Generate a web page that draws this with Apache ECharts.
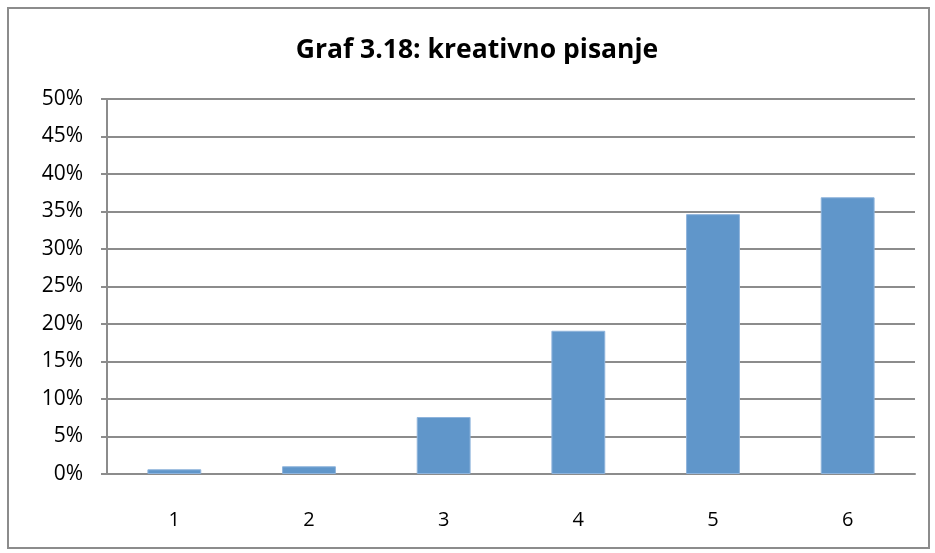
<!DOCTYPE html>
<html>
<head>
<meta charset="utf-8">
<script src="https://cdn.jsdelivr.net/npm/echarts@6/dist/echarts.min.js"></script>
<style>
  html, body { margin: 0; padding: 0; background: #fff; }
  #frame { position: absolute; left: 7px; top: 7px; width: 919px; height: 538px; border: 2px solid #8c8c8c; }
  #chart { position: absolute; left: 0; top: 0; width: 935px; height: 553px; }
</style>
</head>
<body>
<div id="frame"></div>
<div id="chart"></div>
<script>
const categories = ['1', '2', '3', '4', '5', '6'];
const values = [0.63, 1.03, 7.6, 19.1, 34.65, 36.9];
const titleText = 'Graf 3.18: kreativno pisanje';

const chart = echarts.init(document.getElementById('chart'), null, { renderer: 'canvas' });
chart.setOption({
  animation: false,
  title: {
    text: titleText,
    left: 472,
    top: 32,
    textAlign: 'center',
    textStyle: { fontFamily: 'Open Sans', fontSize: 26.5, fontWeight: 'bold', color: '#000' }
  },
  grid: { left: 107, right: 20, top: 99, bottom: 79 },
  xAxis: {
    type: 'category',
    data: categories,
    axisLine: { lineStyle: { color: '#8c8c8c', width: 2 } },
    axisTick: { show: false },
    axisLabel: { fontFamily: 'Open Sans', fontSize: 20, color: '#000', margin: 36 }
  },
  yAxis: {
    type: 'value',
    min: 0,
    max: 50,
    interval: 5,
    axisLine: { show: true, lineStyle: { color: '#8c8c8c', width: 2 } },
    axisTick: { show: true, length: 6, inside: false, lineStyle: { color: '#8c8c8c', width: 2 } },
    splitLine: { lineStyle: { color: '#8c8c8c', width: 2 } },
    axisLabel: { fontFamily: 'Open Sans', fontSize: 21, color: '#000', margin: 24, formatter: '{value}%' }
  },
  series: [{
    type: 'bar',
    data: values,
    barWidth: '40%',
    itemStyle: { color: '#6096ca', borderColor: '#8fb4dc', borderWidth: 1 }
  }]
});
</script>
</body>
</html>
